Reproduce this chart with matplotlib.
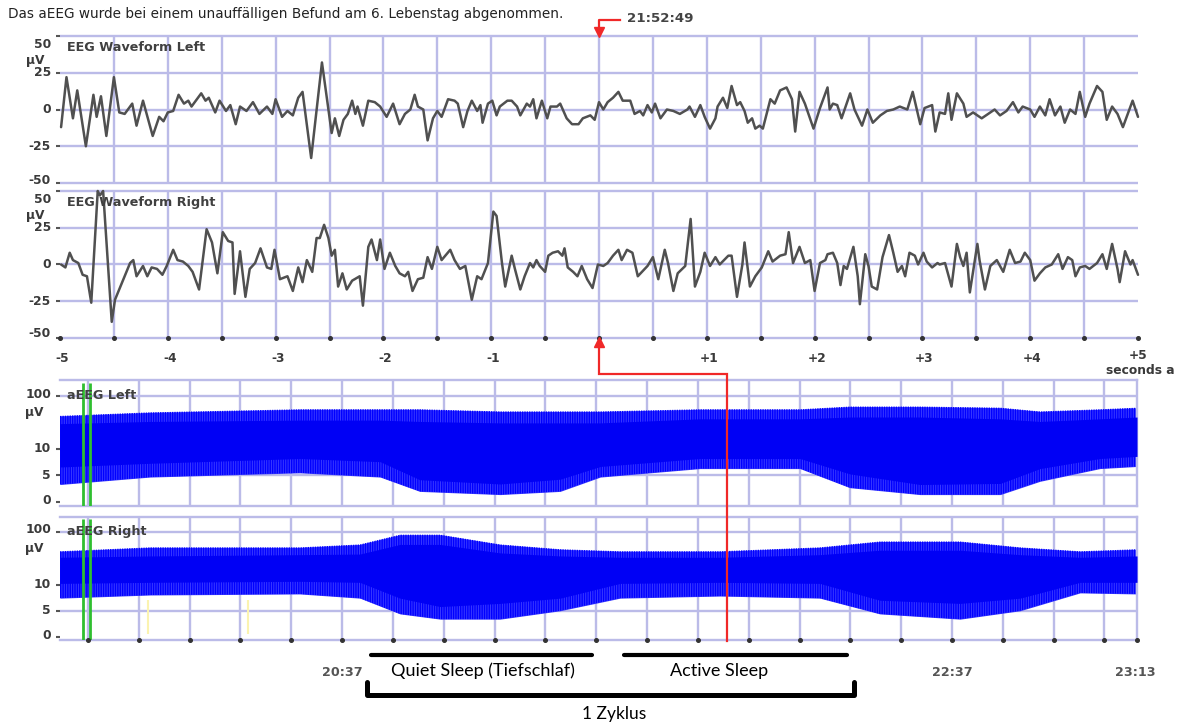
import numpy as np
import matplotlib
matplotlib.use("Agg")
import matplotlib.pyplot as plt
from matplotlib.lines import Line2D
import matplotlib.transforms as mtransforms

# ---------------- data ----------------
# EEG waveform, left channel: seconds relative to cursor, amplitude in µV
eeg_left_t = [
    -4.99, -4.94, -4.88, -4.84, -4.76, -4.69, -4.66, -4.62, -4.57, -4.50,
    -4.45, -4.40, -4.33, -4.29, -4.23, -4.14, -4.08, -4.04, -4.00, -3.95,
    -3.90, -3.85, -3.81, -3.78, -3.73, -3.69, -3.65, -3.62, -3.56, -3.52,
    -3.46, -3.42, -3.37, -3.33, -3.27, -3.21, -3.15, -3.08, -3.03, -3.00,
    -2.94, -2.89, -2.84, -2.79, -2.75, -2.67, -2.57, -2.48, -2.45, -2.41,
    -2.37, -2.33, -2.29, -2.26, -2.24, -2.19, -2.14, -2.08, -2.03, -1.97,
    -1.91, -1.85, -1.80, -1.75, -1.71, -1.68, -1.63, -1.59, -1.54, -1.50,
    -1.46, -1.40, -1.34, -1.31, -1.26, -1.22, -1.18, -1.13, -1.10, -1.08,
    -1.03, -0.99, -0.95, -0.92, -0.85, -0.81, -0.76, -0.73, -0.67, -0.64,
    -0.61, -0.58, -0.53, -0.48, -0.45, -0.39, -0.36, -0.30, -0.25, -0.19,
    -0.15, -0.08, -0.04, 0.00, 0.04, 0.08, 0.13, 0.18, 0.22, 0.29,
    0.33, 0.38, 0.41, 0.45, 0.49, 0.52, 0.57, 0.63, 0.69, 0.75,
    0.82, 0.84, 0.89, 0.94, 0.98, 1.03, 1.08, 1.10, 1.15, 1.19,
    1.23, 1.28, 1.31, 1.35, 1.38, 1.42, 1.45, 1.49, 1.52, 1.59,
    1.63, 1.68, 1.74, 1.79, 1.82, 1.86, 1.91, 1.99, 2.05, 2.12,
    2.14, 2.17, 2.21, 2.25, 2.33, 2.37, 2.44, 2.49, 2.54, 2.61,
    2.67, 2.73, 2.79, 2.86, 2.91, 2.98, 3.02, 3.09, 3.12, 3.16,
    3.21, 3.24, 3.27, 3.32, 3.38, 3.41, 3.47, 3.55, 3.61, 3.67,
    3.72, 3.78, 3.84, 3.89, 3.93, 4.00, 4.04, 4.09, 4.14, 4.18,
    4.23, 4.28, 4.32, 4.37, 4.42, 4.46, 4.51, 4.55, 4.62, 4.67,
    4.71, 4.76, 4.81, 4.86, 4.91, 4.95, 5.00]
eeg_left_uv = [
    -12, 22, -6, 13, -25, 10, -5, 9, -18, 22,
    -2, -3, 4, -11, 6, -18, -5, -8, -2, -1,
    10, 4, 6, 2, 7, 11, 6, 8, -2, 6,
    -1, 3, -10, 2, -1, 5, -3, 2, -3, 7,
    -5, -1, -4, 8, 12, -33, 32, -16, -6, -18,
    -7, -3, 6, -3, 2, -11, 6, 5, 2, -5,
    4, -10, -3, 0, 10, 2, 0, -21, -6, -1,
    -5, 7, 6, 4, -12, -1, 6, -1, 3, -9,
    4, 6, -4, 2, 6, 6, 2, -4, 4, 2,
    7, -6, 6, -6, 2, 2, 4, -6, -10, -10,
    -6, -4, -7, 5, 0, 5, 8, 12, 6, 6,
    -3, -1, -4, 3, -2, 4, -6, 0, -1, -3,
    0, 2, -5, 3, -5, -13, -6, 2, 8, 1,
    16, 3, 5, -1, -9, -6, -13, -11, -13, 7,
    4, 13, 15, 7, -15, 12, 4, -13, 1, 15,
    0, 4, 3, -6, 11, 0, -11, 0, -9, -4,
    -1, 0, 2, 0, 12, -10, 1, 3, -15, -2,
    -3, 11, -7, 11, 4, -5, -2, -6, -3, 0,
    -4, -1, 5, -2, 2, 0, -5, 2, -4, 7,
    -4, 2, -9, 0, -3, 12, -5, 4, 16, 12,
    -7, 2, -3, -12, -2, 6, -5]

# EEG waveform, right channel
eeg_right_t = [
    -4.99, -4.95, -4.91, -4.88, -4.83, -4.79, -4.75, -4.71, -4.65, -4.63,
    -4.60, -4.52, -4.49, -4.44, -4.40, -4.35, -4.32, -4.29, -4.23, -4.19,
    -4.15, -4.10, -4.05, -4.01, -3.95, -3.91, -3.86, -3.81, -3.77, -3.71,
    -3.64, -3.59, -3.54, -3.49, -3.44, -3.40, -3.38, -3.33, -3.28, -3.24,
    -3.19, -3.14, -3.08, -3.04, -3.01, -2.96, -2.89, -2.84, -2.79, -2.75,
    -2.71, -2.66, -2.62, -2.59, -2.55, -2.51, -2.48, -2.45, -2.42, -2.38,
    -2.34, -2.29, -2.22, -2.19, -2.14, -2.11, -2.06, -2.03, -1.99, -1.94,
    -1.89, -1.85, -1.80, -1.77, -1.73, -1.68, -1.63, -1.59, -1.55, -1.50,
    -1.46, -1.38, -1.34, -1.29, -1.24, -1.18, -1.13, -1.09, -1.03, -0.98,
    -0.95, -0.90, -0.87, -0.81, -0.78, -0.73, -0.69, -0.64, -0.61, -0.58,
    -0.55, -0.50, -0.47, -0.43, -0.38, -0.34, -0.32, -0.29, -0.24, -0.20,
    -0.16, -0.11, -0.06, -0.01, 0.04, 0.08, 0.13, 0.18, 0.21, 0.26,
    0.31, 0.36, 0.45, 0.50, 0.55, 0.61, 0.64, 0.69, 0.73, 0.80,
    0.85, 0.89, 0.94, 0.98, 1.03, 1.08, 1.12, 1.20, 1.23, 1.28,
    1.33, 1.35, 1.40, 1.45, 1.51, 1.57, 1.61, 1.68, 1.73, 1.76,
    1.80, 1.86, 1.91, 1.96, 2.00, 2.05, 2.10, 2.12, 2.17, 2.21,
    2.24, 2.27, 2.30, 2.36, 2.40, 2.42, 2.47, 2.50, 2.53, 2.58,
    2.63, 2.69, 2.73, 2.77, 2.81, 2.84, 2.88, 2.93, 2.96, 3.01,
    3.04, 3.09, 3.14, 3.16, 3.21, 3.27, 3.32, 3.35, 3.38, 3.41,
    3.44, 3.51, 3.53, 3.58, 3.63, 3.69, 3.75, 3.81, 3.86, 3.91,
    3.95, 4.00, 4.04, 4.09, 4.14, 4.20, 4.26, 4.30, 4.35, 4.39,
    4.42, 4.46, 4.51, 4.55, 4.62, 4.67, 4.71, 4.76, 4.81, 4.83,
    4.88, 4.93, 4.95, 5.00]
eeg_right_uv = [
    0, -2, 8, 3, 1, -7, -8, -26, 50, 47,
    50, -39, -24, -15, -8, 1, 3, -8, -1, -8,
    -2, -3, -7, -1, 10, 3, 2, -1, -5, -17,
    24, 15, -6, 22, 16, 15, -20, 9, -22, -3,
    1, 11, -2, -3, 10, -10, -8, -18, -2, -12,
    3, -5, 18, 18, 27, 18, 6, 10, -15, -6,
    -17, -11, -8, -28, 12, 17, 3, 17, -3, 8,
    -1, -6, -8, -5, -18, -10, -9, 5, -3, 12,
    3, 10, 3, -3, -1, -24, -8, -10, 1, 36,
    33, 1, -15, 6, -3, -17, -8, 1, -2, 3,
    -1, -5, 6, 8, 9, 6, 11, -2, -5, -8,
    -1, -10, -16, 0, -1, 1, 6, 10, 3, 10,
    8, -8, -1, 5, -10, 10, 1, -18, -6, -1,
    31, -15, -5, 8, -1, 5, 0, 6, 6, -22,
    0, 15, -15, -8, -2, 9, 2, 6, 7, 22,
    1, 12, 1, 3, -18, 1, 3, 7, 8, 1,
    -14, -1, -3, 12, -8, -27, 7, -1, -15, -17,
    5, 20, 8, -5, -1, -8, 8, 6, 0, 8,
    2, -2, 1, 0, 1, -15, 14, 5, -1, 8,
    -19, 14, 3, -17, -1, 3, -5, 10, 1, 2,
    8, 3, -11, -6, -2, 0, 7, -3, 5, 3,
    -8, -2, -1, -3, 1, 7, -3, 14, -3, -12,
    9, 0, 3, -7]

eeg_yticks = [50, 25, 0, -25, -50]
eeg_xtick_pos = [-5, -4, -3, -2, -1, 1, 2, 3, 4, 5]
eeg_xtick_labels = ['-5', '-4', '-3', '-2', '-1', '+1', '+2', '+3', '+4', '+5']
eeg_xunit_label = 'seconds a'

# aEEG trend: clock time in minutes since midnight, margins in µV
aeeg_left_min = [1181.5, 1199.2, 1228.7, 1244.5, 1252.3, 1268.1, 1279.9, 1287.8,
                 1307.4, 1327.1, 1336.9, 1350.7, 1366.5, 1374.3, 1386.1, 1393.4]
aeeg_left_outer_hi = [42, 49, 56, 56, 56, 51, 51, 51, 56, 56, 63, 63, 60, 51, 56, 60]
aeeg_left_outer_lo = [3.3, 4.7, 5.5, 4.7, 2.0, 1.4, 2.0, 4.7, 6.3, 6.3, 2.7, 1.4,
                      1.4, 3.9, 6.3, 6.7]
aeeg_left_core_hi = [30, 33, 35, 35, 33, 31, 31, 31, 37, 37, 40, 40, 37, 33, 37, 40]
aeeg_left_core_lo = [6.6, 7.3, 8.2, 7.6, 4.2, 3.4, 4.3, 6.7, 8.2, 8.2, 5.3, 3.3,
                     3.5, 6.3, 8.2, 8.6]

aeeg_right_min = [1181.5, 1199.2, 1228.7, 1240.5, 1248.4, 1256.3, 1268.1, 1279.9,
                  1291.7, 1311.4, 1331.0, 1342.8, 1358.6, 1370.4, 1382.2, 1393.4]
aeeg_right_outer_hi = [43, 51, 51, 58, 89, 89, 58, 47, 43, 43, 51, 66, 66, 51, 43, 47]
aeeg_right_outer_lo = [7.4, 8.0, 8.2, 7.4, 4.4, 3.4, 3.4, 5.0, 7.4, 7.8, 7.4, 4.4,
                       3.4, 5.0, 8.4, 8.2]
aeeg_right_core_hi = [33, 35, 37, 38, 58, 58, 40, 35, 33, 33, 37, 45, 45, 37, 33, 35]
aeeg_right_core_lo = [10.5, 11, 11.5, 11, 7.4, 5.8, 6.4, 7.4, 10.5, 11, 10.5, 7.0,
                      6.4, 7.4, 11, 11]

aeeg_yticks = [100, 10, 5, 0]
aeeg_grid_start = 1187
aeeg_grid_step = 10
aeeg_start, aeeg_end = 1181.5, 1393.4
aeeg_time_ticks = [1237, 1357, 1393]
aeeg_time_labels = ['20:37', '22:37', '23:13']
cursor_min = 1312.82          # 21:52:49
cursor_label = '21:52:49'
event_markers_min = [1186.0, 1187.4]
yellow_markers_min = [1198.8, 1218.5]

title = "Das aEEG wurde bei einem unauffälligen Befund am 6. Lebenstag abgenommen."
phase_labels = ['Quiet Sleep (Tiefschlaf)', 'Active Sleep']
cycle_label = '1 Zyklus'

# ---------------- figure ----------------
W, H = 1188, 725
fig = plt.figure(figsize=(W / 100, H / 100), dpi=100)
fig.patch.set_facecolor('white')


def fx(px):
    return px / W


def fy(py):
    return 1 - py / H


GRID = '#bbbbe8'
TXT = '#3a3a3a'
RED = '#f02828'
LABEL_FONT = dict(family='DejaVu Sans', weight='bold', color=TXT, size=8.8)
PANEL_FONT = dict(family='DejaVu Sans', weight='bold', color='#404040', size=9.2)


def make_axes(x0, x1, y0, y1):
    return fig.add_axes([fx(x0), fy(y1), (x1 - x0) / W, (y1 - y0) / H])


ax1 = make_axes(60, 1138, 36, 183)
ax2 = make_axes(60, 1138, 191, 338)
ax3 = make_axes(60, 1137, 380, 506)
ax4 = make_axes(60, 1137, 517, 640)

# ---- EEG waveform panels ----
for ax, t, v, name, lab_offsets in (
        (ax1, eeg_left_t, eeg_left_uv, 'EEG Waveform Left', [-6, 0, 0, 0, 2]),
        (ax2, eeg_right_t, eeg_right_uv, 'EEG Waveform Right', [-6, 0, 0, 0, 3])):
    ax.set_xlim(-5, 5)
    ax.set_ylim(-50, 50)
    for s in ax.spines.values():
        s.set_visible(False)
    ax.set_xticks([])
    ax.set_yticks(eeg_yticks)
    ax.set_yticklabels([])
    ax.tick_params(axis='y', length=3, width=1.5, color='#555555', direction='out')
    ax.hlines(eeg_yticks, -5, 5, color=GRID, lw=1.7, zorder=1, clip_on=False)
    ax.vlines(np.arange(-4.5, 4.6, 0.5), -50, 50, color=GRID, lw=1.7, zorder=1)
    ax.plot(t, v, color='#505050', lw=1.8, zorder=3, solid_joinstyle='round',
            solid_capstyle='round', clip_on=False)
    ax.text(0.0065, 0.92, name, transform=ax.transAxes, ha='left', va='center',
            zorder=5, **PANEL_FONT)
    for val, off in zip(eeg_yticks, lab_offsets):
        ax.annotate(str(val), xy=(0, val), xycoords=('axes fraction', 'data'),
                    xytext=(-6.5, off), textcoords='offset points', ha='right', va='center',
                    **LABEL_FONT)
    ax.annotate('µV', xy=(0, 50), xycoords=('axes fraction', 'data'),
                xytext=(-24.5, -17.5), textcoords='offset points', ha='left', va='center',
                **LABEL_FONT)

ax2.plot(np.arange(-5, 5.01, 0.5), [-50] * 21, 'o', ms=2.6, color='#333333',
         clip_on=False, zorder=4)
for p, lab in zip(eeg_xtick_pos, eeg_xtick_labels):
    ax2.annotate(lab, xy=(p, -50), xycoords='data',
                 xytext=(1.5 if p != 5 else 0, -15 if p != 5 else -12.5),
                 textcoords='offset points', ha='center', va='center', **LABEL_FONT)
fig.text(fx(1106), fy(370), eeg_xunit_label, ha='left', va='center', **LABEL_FONT)


# ---- aEEG panels (linear 0-10 µV, logarithmic 10-100 µV) ----
def fwd(v):
    v = np.asarray(v, dtype=float)
    return np.where(v <= 10, v / 10.0, 1 + np.log10(np.maximum(v, 10) / 10.0))


def inv(f):
    f = np.asarray(f, dtype=float)
    return np.where(f <= 1, f * 10.0, 10.0 * 10 ** (np.maximum(f, 1) - 1))


grid_minutes = np.arange(aeeg_grid_start, aeeg_end, aeeg_grid_step)
for ax, tm, ohi, olo, chi, clo, name, flims, lab_dy in (
        (ax3, aeeg_left_min, aeeg_left_outer_hi, aeeg_left_outer_lo,
         aeeg_left_core_hi, aeeg_left_core_lo, 'aEEG Left', (-0.075, 2.30), [1, 0, 0, 1]),
        (ax4, aeeg_right_min, aeeg_right_outer_hi, aeeg_right_outer_lo,
         aeeg_right_core_hi, aeeg_right_core_lo, 'aEEG Right', (-0.057, 2.286), [2, 0, 0, 1])):
    ax.set_yscale('function', functions=(fwd, inv))
    ax.set_ylim(flims[0] * 10, float(inv(flims[1])))
    ax.set_xlim(aeeg_start, aeeg_end)
    ax.spines['left'].set_visible(False)
    for k in ('top', 'bottom', 'right'):
        ax.spines[k].set_color(GRID)
        ax.spines[k].set_linewidth(1.7)
    ax.set_xticks([])
    ax.set_yticks(aeeg_yticks)
    ax.set_yticklabels([])
    ax.yaxis.set_minor_locator(matplotlib.ticker.NullLocator())
    ax.tick_params(axis='y', length=3, width=1.5, color='#555555', direction='out')
    ax.hlines([100, 10, 5], aeeg_start, aeeg_end, color=GRID, lw=1.7, zorder=1)
    ax.vlines(grid_minutes, ax.get_ylim()[0], ax.get_ylim()[1], color=GRID, lw=1.7, zorder=1)
    ax.fill_between(tm, olo, ohi, color='#3a3aff', lw=0, zorder=2)
    ax.fill_between(tm, olo, ohi, facecolor='none', edgecolor='#0000ff', hatch='|||||||',
                    lw=0, zorder=2)
    ax.fill_between(tm, clo, chi, color='#0000f5', lw=0, zorder=3)
    ax.vlines(event_markers_min, ax.get_ylim()[0], float(inv(2.24)), color='#2fbf2f',
              lw=2.0, zorder=4)
    ax.text(0.0065, 0.88, name, transform=ax.transAxes, ha='left', va='center',
            zorder=5, **PANEL_FONT)
    for val, dy in zip(aeeg_yticks, lab_dy):
        ax.annotate(str(val), xy=(0, val), xycoords=('axes fraction', 'data'),
                    xytext=(-6.5, dy), textcoords='offset points', ha='right', va='center',
                    **LABEL_FONT)
    ax.annotate('µV', xy=(0, 100), xycoords=('axes fraction', 'data'),
                xytext=(-25.5, -12), textcoords='offset points', ha='left', va='center',
                **LABEL_FONT)

ax4.vlines(yellow_markers_min, 0.5, 7, color='#fbf3b0', lw=1.5, zorder=1.5)
ax4.plot(list(grid_minutes) + [aeeg_end], [ax4.get_ylim()[0]] * (len(grid_minutes) + 1),
         'o', ms=2.6, color='#333333', clip_on=False, zorder=5)

bx = mtransforms.blended_transform_factory(ax4.transData, fig.transFigure)
for tm, lab in zip(aeeg_time_ticks, aeeg_time_labels):
    fig.text(tm, fy(672), lab, transform=bx, ha='center', va='center',
             family='DejaVu Sans', weight='bold', color='#555555', size=9.2)

# ---- cursor (red) ----
fig.canvas.draw()
cx = ax4.transData.transform((cursor_min, 10))[0] / W
c0x = ax2.transData.transform((0, 0))[0] / W
fig.add_artist(Line2D([cx, cx, c0x, c0x], [fy(641), fy(374), fy(374), fy(345)],
                      transform=fig.transFigure, color=RED, lw=1.6, zorder=10,
                      solid_joinstyle='miter'))
fig.add_artist(Line2D([c0x], [fy(342.5)], transform=fig.transFigure, marker='^',
                      ms=6.5, color=RED, lw=0, zorder=10))
fig.add_artist(Line2D([c0x + fx(21), c0x, c0x], [fy(20), fy(20), fy(29)],
                      transform=fig.transFigure, color=RED, lw=1.6, zorder=10))
fig.add_artist(Line2D([c0x], [fy(32)], transform=fig.transFigure, marker='v',
                      ms=6.5, color=RED, lw=0, zorder=10))
fig.text(fx(627), fy(19), cursor_label, ha='left', va='center', family='DejaVu Sans',
         weight='bold', color='#444444', size=9.6)

# ---- title ----
fig.text(fx(8), fy(14), title, ha='left', va='center', family='DejaVu Sans',
         color='#222222', size=9.8)

# ---- sleep phase annotation ----
lw_bar = 3.0
fig.add_artist(Line2D([fx(371), fx(592)], [fy(655), fy(655)], color='black', lw=lw_bar,
                      solid_capstyle='round'))
fig.add_artist(Line2D([fx(624), fx(847)], [fy(655), fy(655)], color='black', lw=lw_bar,
                      solid_capstyle='round'))
fig.add_artist(Line2D([fx(367), fx(367), fx(854), fx(854)],
                      [fy(682), fy(695), fy(695), fy(682)], color='black', lw=3.6,
                      solid_capstyle='round', solid_joinstyle='round'))
fig.text(fx(483), fy(671), phase_labels[0], ha='center', va='center', family='Lato',
         color='black', size=13)
fig.text(fx(719), fy(671), phase_labels[1], ha='center', va='center', family='Lato',
         color='black', size=13)
fig.text(fx(614), fy(714), cycle_label, ha='center', va='center', family='Lato',
         color='black', size=12.5)

fig.savefig('out.png', dpi=100, facecolor='white')
